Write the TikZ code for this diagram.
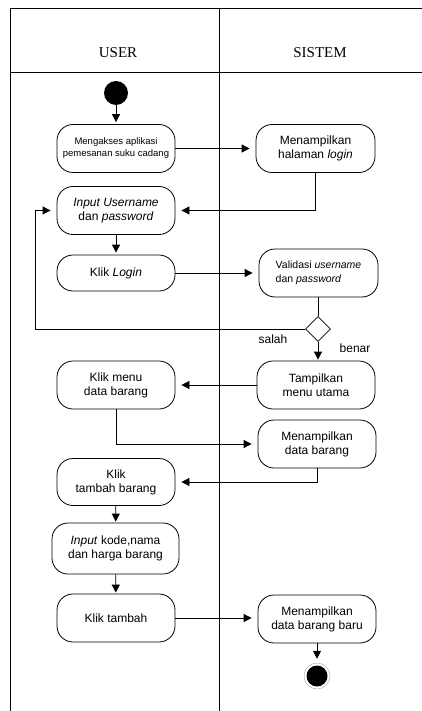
\documentclass[tikz,border=0pt]{standalone}
\usepackage{fontspec}
\setmainfont{Liberation Sans}
\newfontfamily\headfont{Liberation Serif}
\usetikzlibrary{arrows.meta,shapes.geometric}
\begin{document}
\begin{tikzpicture}[x=1pt,y=-1pt,
  act/.style={draw,line width=0.8pt,rounded corners=16pt,align=center,inner sep=0pt,
    minimum width=118pt,minimum height=48pt,font=\fontsize{12}{14}\selectfont},
  flow/.style={line width=0.8pt,-{Triangle[length=8pt,width=8pt]},shorten >=6pt},
  plain/.style={line width=0.8pt},
  lane/.style={line width=0.9pt},
  head/.style={font=\headfont\fontsize{15}{18}\selectfont},
  lbl/.style={font=\fontsize{12}{14}\selectfont}]
\useasboundingbox (0,0) rectangle (422,711);
\clip (0,0) rectangle (422,711);
\fill[white] (0,0) rectangle (422,711);
% swimlanes
\draw[lane] (430,8) -- (10,8) -- (10,720);
\draw[lane] (10,72) -- (430,72);
\draw[lane] (219,8) -- (219,720);
\node[head] (hu) at (118,53) {USER};
\node[head] (hs) at (320,53) {SISTEM};
% start
\node[circle,fill=black,minimum size=24pt,inner sep=0pt] (start) at (116,93) {};
% activities
\node[act,font=\fontsize{9.5}{12}\selectfont] (b1) at (116,148.5) {Mengakses aplikasi\\pemesanan suku cadang};
\node[act,minimum width=119pt] (b2) at (315.5,148.5) {Menampilkan\\halaman \textit{login}};
\node[act] (b3) at (116,210.5) {\textit{Input Username}\\dan \textit{password}};
\node[act,minimum height=36pt] (b4) at (116,273) {Klik \textit{Login}};
\node[act,minimum width=119pt,font=\fontsize{10.5}{13.5}\selectfont,align=left] (b5) at (318.5,273) {Validasi \textit{username}\\dan \textit{password}};
\node[diamond,draw,line width=0.8pt,minimum width=25pt,minimum height=25pt,inner sep=0pt] (d) at (318,329) {};
\node[act] (b6) at (316,385) {Tampilkan\\menu utama};
\node[act] (b7) at (116,385) {Klik menu\\data barang};
\node[act] (b8) at (317,444) {Menampilkan\\data barang};
\node[act,minimum height=47pt] (b9) at (116,482) {Klik\\tambah barang};
\node[act,minimum width=127pt,minimum height=51pt] (b10) at (115.5,548.5) {\textit{Input} kode,nama\\dan harga barang};
\node[act] (b11) at (116,618) {Klik tambah};
\node[act] (b12) at (317,619) {Menampilkan\\data barang baru};
% end
\node[circle,fill=black,minimum size=21pt,inner sep=0pt] (endc) at (317,676) {};
\node[circle,draw=gray!60,line width=0.5pt,minimum size=26pt,inner sep=0pt] (endr) at (317,676) {};
% labels
\node[lbl] (ls) at (273,339) {salah};
\node[lbl] (lb) at (355,348) {benar};
% connectors
\coordinate (loopL) at (35,329);
\draw[flow,shorten >=2pt] (start) -- (b1);
\draw[flow] (b1) -- (b2);
\draw[flow] (b2.south) |- (b3.east);
\draw[flow,shorten >=2pt] (b3) -- (b4);
\draw[flow] (b4) -- (b4 -| b5.west);
\draw[plain] (b5.south -| d.north) -- (d.north);
\draw[flow] (d.west) -- (loopL) |- (b3.west);
\draw[flow,shorten >=1pt] (d.south) -- (d.south |- b6.north);
\draw[flow] (b6.west) -- (b6.west -| b7.east);
\draw[flow] (b7.south) |- (b8.west);
\draw[flow] (b8.south) |- (b9.east);
\draw[flow,shorten >=1pt] (b9) -- (b10);
\draw[flow,shorten >=1pt] (b10) -- (b11);
\draw[flow] (b11.east) -- (b11.east -| b12.west);
\draw[flow,shorten >=4pt] (b12.south) -- (endr.north);
\end{tikzpicture}
\end{document}
